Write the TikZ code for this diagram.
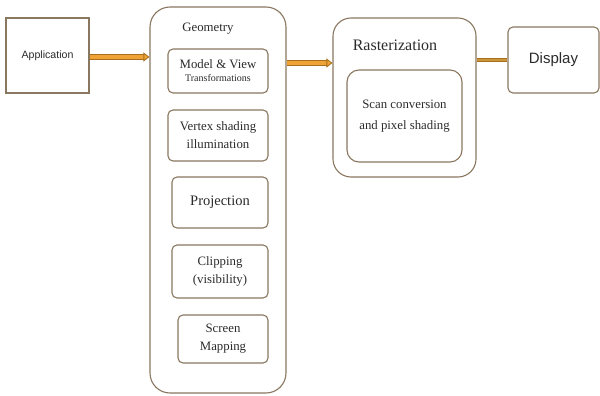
\documentclass[tikz,border=0pt]{standalone}
\usepackage{fontspec}
\setmainfont{Liberation Serif}
\newfontfamily\arialfont{Liberation Sans}
\usetikzlibrary{arrows.meta}
\definecolor{boxline}{HTML}{8A7760}
\definecolor{pipeedge}{HTML}{A8701E}
\definecolor{pipefill}{HTML}{EFA235}
\definecolor{linkgold}{HTML}{C9973A}
\definecolor{inktext}{HTML}{2B2B2B}

\tikzset{
  stage/.style={draw=boxline, line width=1.1pt, fill=white, text=inktext, align=center, inner sep=0pt},
  substage/.style={stage, rounded corners=5pt, font=\fontsize{12.8}{18}\selectfont},
  pipe/.style={draw=pipeedge, line width=0.8pt, double=pipefill, double distance=4pt}
}

\begin{document}
\begin{tikzpicture}[x=1pt, y=-1pt, >=Stealth]
\useasboundingbox (0,0) rectangle (600,396);

% Application
\node[stage, minimum width=83pt, minimum height=75pt, font=\arialfont\fontsize{10.6}{12}\selectfont]
  (app) at (47.5, 55.5) {Application};

% Geometry block
\node[stage, rounded corners=20pt, minimum width=136pt, minimum height=386pt] (geom) at (218, 200) {};
\node[text=inktext, font=\fontsize{12.8}{15}\selectfont] (geomlabel) at (208, 29) {Geometry};

\node[substage, minimum width=100pt, minimum height=44pt] (model) at (218, 71)
  {Model \& View\\[-5pt]{\fontsize{10}{11}\selectfont Transformations}};
\node[substage, minimum width=100pt, minimum height=51pt] (vertex) at (218, 135.5)
  {Vertex shading\\illumination};
\node[substage, minimum width=96pt, minimum height=51pt, font=\fontsize{14.5}{16}\selectfont]
  (proj) at (220, 202.5) {Projection};
\node[substage, minimum width=96pt, minimum height=53pt] (clip) at (220, 271.5)
  {Clipping\\(visibility)};
\node[substage, minimum width=90pt, minimum height=48pt] (screen) at (223, 339)
  {Screen\\Mapping};

% Rasterization block
\node[stage, rounded corners=18pt, minimum width=143pt, minimum height=159pt] (rast) at (404.5, 97.5) {};
\node[text=inktext, font=\fontsize{16}{18}\selectfont] (rastlabel) at (395, 45) {Rasterization};
\node[stage, rounded corners=12pt, minimum width=115pt, minimum height=92pt,
  font=\fontsize{12.8}{21}\selectfont] (scan) at (404.5, 116) {Scan conversion\\and pixel  shading};

% Display
\node[stage, rounded corners=5pt, minimum width=91pt, minimum height=66pt,
  font=\arialfont\fontsize{15}{17}\selectfont] (disp) at (553.5, 60) {Display};

% Connectors
\draw[pipe, -{Triangle[length=6pt, width=9pt, fill=pipefill, line width=0.8pt]}]
  ([yshift=-1.5pt]app.east) -- ([yshift=-1.5pt]app.east -| geom.west);
\draw[pipe, -{Triangle[length=6pt, width=9pt, fill=pipefill, line width=0.8pt]}]
  ([yshift=8pt]model.east -| geom.east) -- ([yshift=8pt]model.east -| rast.west);
\draw[draw=pipeedge, line width=0.7pt, double=linkgold, double distance=2.5pt]
  (disp.west -| rast.east) -- (disp.west);

\end{tikzpicture}
\end{document}
